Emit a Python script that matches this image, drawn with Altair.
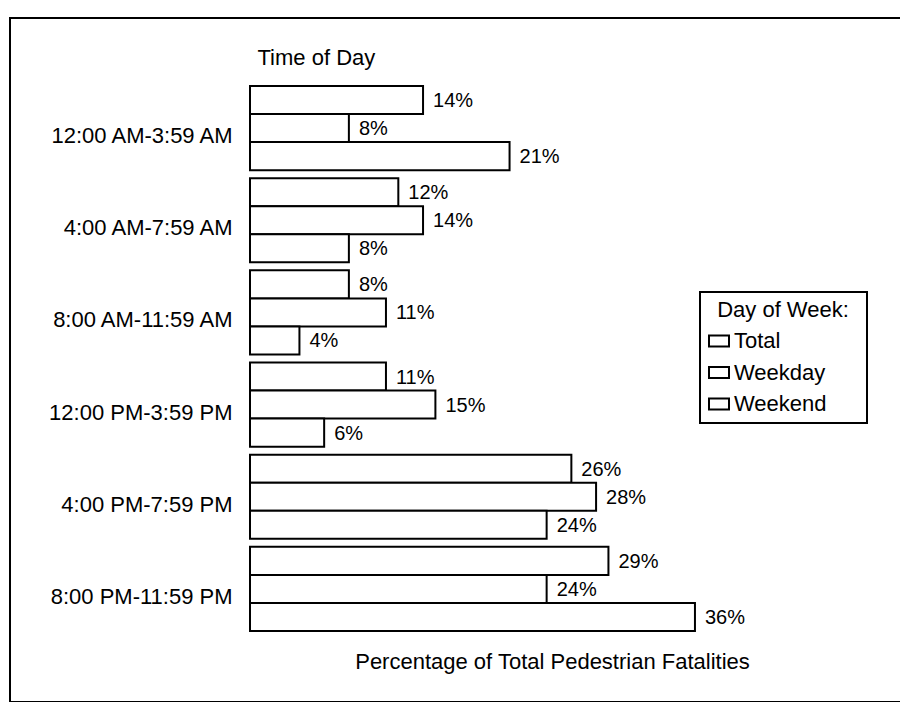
import altair as alt
import pandas as pd

times = ["12:00 AM-3:59 AM", "4:00 AM-7:59 AM", "8:00 AM-11:59 AM",
         "12:00 PM-3:59 PM", "4:00 PM-7:59 PM", "8:00 PM-11:59 PM"]
series = ["Total", "Weekday", "Weekend"]
total = [14, 12, 8, 11, 26, 29]
weekday = [8, 14, 11, 15, 28, 24]
weekend = [21, 8, 4, 6, 24, 36]

rows = []
for i, t in enumerate(times):
    for s, vals in zip(series, [total, weekday, weekend]):
        rows.append({"time": t, "series": s, "value": vals[i], "label": f"{vals[i]}%"})
df = pd.DataFrame(rows)

FONT = "Liberation Sans"
BLANK = "\u2800\u2800"

yenc = alt.Y("time:N", sort=times,
             scale=alt.Scale(paddingInner=0.087, paddingOuter=0),
             axis=alt.Axis(title="Time of Day", titleAngle=0, titleAlign="left",
                           titleBaseline="middle", titleX=7, titleY=-29,
                           titleFontSize=22, titleFontWeight="normal", titleFont=FONT,
                           titleColor="black",
                           labelFontSize=22, labelFont=FONT, labelColor="black",
                           labelPadding=18, labelOffset=8, labelLimit=400,
                           domain=False, ticks=False, grid=False))
yoff = alt.YOffset("series:N", sort=series, scale=alt.Scale(paddingInner=0, paddingOuter=0))
xenc = alt.X("value:Q", scale=alt.Scale(domain=[0, 50]),
             axis=alt.Axis(title="Percentage of Total Pedestrian Fatalities",
                           labels=False, ticks=False, domain=False, grid=False,
                           titleFontSize=22, titleFontWeight="normal", titleFont=FONT,
                           titleColor="black", titleX=302, titleY=30,
                           titleBaseline="middle"))

base = alt.Chart(df)

bars = base.mark_bar(stroke="black", strokeWidth=2).encode(
    x=xenc, y=yenc, yOffset=yoff,
    fill=alt.Fill("series:N", sort=series,
                  scale=alt.Scale(domain=series, range=["white", "white", "white"]),
                  legend=alt.Legend(title="Day of Week:", orient="none",
                                    legendX=450, legendY=206,
                                    titleAnchor="middle", titleFontSize=22,
                                    titleFontWeight="normal", titleFont=FONT,
                                    titleColor="black", titlePadding=8,
                                    labelFontSize=22, labelFont=FONT, labelColor="black",
                                    labelOffset=4, rowPadding=9.5, labelLimit=300,
                                    labelExpr="datum.label + '" + BLANK + "'",
                                    symbolType="M-1,-0.55H1V0.55H-1Z", symbolSize=400,
                                    symbolStrokeColor="black", symbolStrokeWidth=2,
                                    strokeColor="black", padding=8))
)

labels = base.mark_text(align="left", baseline="middle", dx=10, dy=1,
                        fontSize=20, font=FONT, color="black").encode(
    x="value:Q", y=alt.Y("time:N", sort=times), yOffset=alt.YOffset("series:N", sort=series),
    text="label:N")

frame = alt.Chart(pd.DataFrame({"a": [0]})).mark_rect(
    fill=None, stroke="black", strokeWidth=2).encode(
    x=alt.value(-240), x2=alt.value(700), y=alt.value(-68), y2=alt.value(616))

chart = alt.layer(frame, bars, labels).properties(
    width=618, height=545,
    autosize=alt.AutoSizeParams(type="none"),
    padding={"left": 242, "top": 78, "right": 32, "bottom": 71}
).configure(font=FONT).configure_view(stroke=None, strokeWidth=0).configure_legend(strokeWidth=2)

chart.save("out.html", embed_options={"renderer": "svg", "actions": False})
